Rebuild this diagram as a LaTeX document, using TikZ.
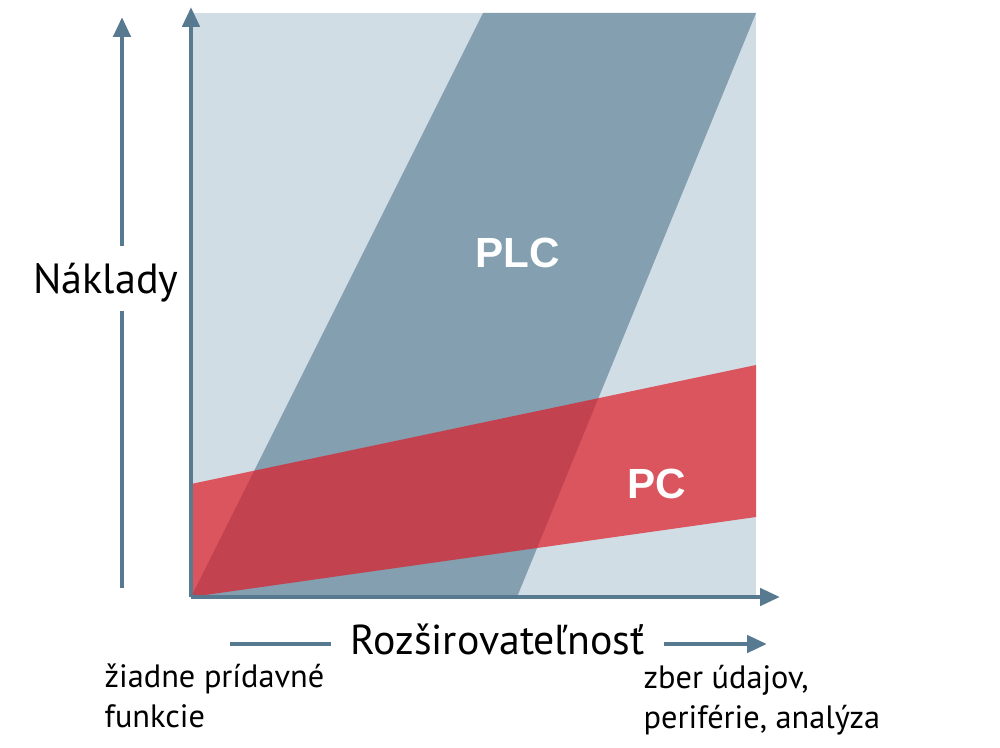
\documentclass[tikz,border=0pt]{standalone}
\usepackage{fontspec}
\setmainfont{PT Sans}
\newfontfamily\grasfont{Liberation Sans}
\usetikzlibrary{arrows.meta}
\definecolor{fondclair}{RGB}{209,221,229}
\definecolor{plcgris}{RGB}{131,159,176}
\definecolor{pcrouge}{RGB}{224,25,36}
\definecolor{axecouleur}{RGB}{88,122,145}
\tikzset{
  axe/.style={draw=axecouleur, line width=1.3pt, -{Triangle[length=2mm,width=1.7mm]}},
  trait/.style={draw=axecouleur, line width=1.3pt},
  etiquette/.style={text=white, font=\grasfont\bfseries\fontsize{12}{14}\selectfont},
  legende/.style={font=\fontsize{11.9}{14}\selectfont, inner sep=0pt},
  remarque/.style={font=\fontsize{9.2}{11.4}\selectfont, align=left, inner sep=0pt}
}
\begin{document}
\begin{tikzpicture}
\useasboundingbox (0,0) rectangle (10,7.47);
% dessiner le fond
  \pgfmathsetmacro\gauche{1.91}
  \pgfmathsetmacro\droite{7.56}
  \pgfmathsetmacro\bas{1.50}
  \pgfmathsetmacro\haut{7.34}
  \fill[fondclair] (\gauche,\bas) rectangle (\droite,\haut);

  % dessiner les zones PLC et PC
  \fill[plcgris] (\gauche,\bas) -- (5.17,\bas) -- (\droite,\haut) -- (4.83,\haut) -- cycle;
  \fill[pcrouge, fill opacity=0.69] (\gauche,\bas) -- (\droite,2.30) -- (\droite,3.82) -- (\gauche,2.63) -- cycle;
  \node[etiquette] (plc) at (5.18,4.94) {PLC};
  \node[etiquette] (pc) at (6.57,2.63) {PC};

  % dessiner les axes
  \coordinate (origine) at (\gauche,\bas);
  \coordinate (yfin) at (\gauche,7.40);
  \coordinate (xfin) at (7.80,\bas);
  \draw[axe] (origine) -- (yfin);
  \draw[axe] (origine) -- (xfin);

  % dessiner les legendes des axes
  \node[legende, font=\fontsize{12}{14}\selectfont, anchor=base] (naklady) at (1.06,4.54) {Náklady};
  \coordinate (nbas) at (1.22,1.59);
  \coordinate (nhaut) at (1.22,7.30);
  \draw[trait, shorten >=0.9mm] (nbas) -- (nbas |- naklady.south);
  \draw[axe, shorten <=1.6mm] (nbas |- naklady.north) -- (nhaut);

  \node[legende, inner xsep=1.9mm, anchor=base] (rozsir) at (4.975,0.93) {Rozširovateľnosť};
  \coordinate (rdebut) at (2.30,1.03);
  \coordinate (rfin) at (7.67,1.03);
  \draw[trait] (rdebut) -- (rdebut -| rozsir.west);
  \draw[axe] (rfin -| rozsir.east) -- (rfin);

  \node[remarque, anchor=north west] (aucune) at (1.04,0.84) {žiadne prídavné\\funkcie};
  \node[remarque, anchor=north west] (donnees) at (6.43,0.83) {zber údajov,\\periférie, analýza};
\end{tikzpicture}
\end{document}
